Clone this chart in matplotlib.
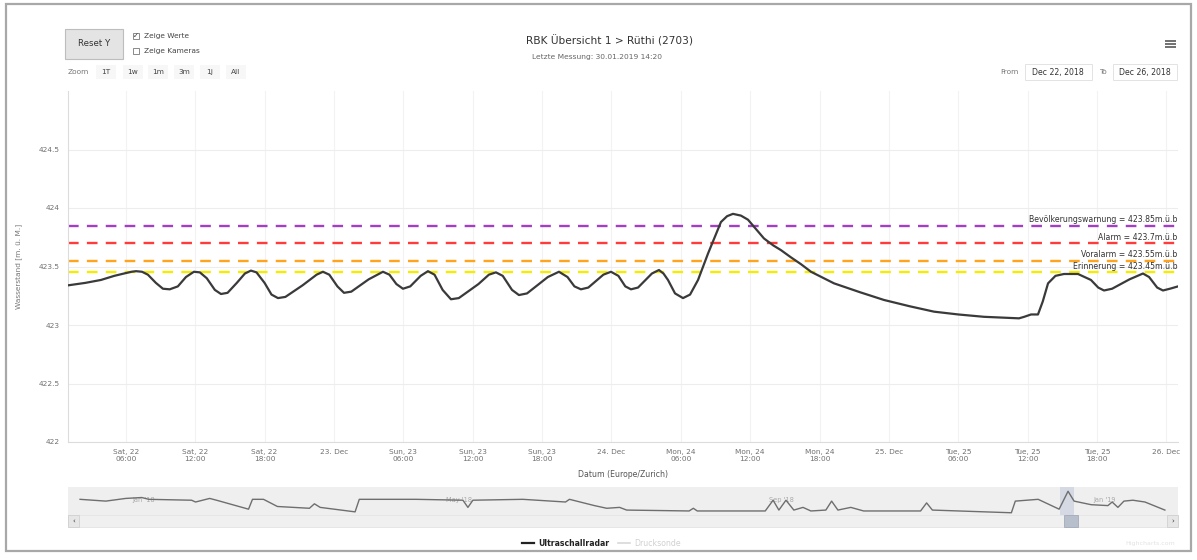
import matplotlib
matplotlib.use('Agg')
import matplotlib.pyplot as plt
from matplotlib.patches import Rectangle
import numpy as np

plt.rcParams['font.family'] = ['DejaVu Sans']

# ---------------- data ----------------
# hours since 22 Dec 2018 00:00 (Europe/Zurich)
hours = [1.08, 2.5, 3.85, 5.0, 5.84, 6.5, 6.88, 7.4, 7.91, 8.6, 9.21, 9.8, 10.5, 11.2, 11.89,
         12.4, 13.0, 13.7, 14.23, 14.8, 15.6, 16.3, 16.82, 17.3, 18.0, 18.6, 19.16, 19.8, 21.3,
         22.5, 23.05, 23.6, 24.3, 24.87, 25.5, 27.0, 28.24, 28.8, 29.4, 29.97, 30.6, 31.5, 32.13,
         32.7, 33.4, 34.12, 34.8, 36.5, 37.4, 38.01, 38.6, 39.4, 40.0, 40.7, 42.5, 43.46, 44.2,
         44.8, 45.36, 46.0, 47.3, 47.96, 48.6, 49.2, 49.69, 50.3, 51.5, 52.11, 52.5, 52.89, 53.5,
         54.19, 54.8, 55.49, 56.35, 57.47, 58.0, 58.51, 59.2, 59.81, 60.5, 61.19, 62.0, 62.66,
         63.5, 64.39, 65.26, 67.25, 69.5, 71.57, 73.8, 75.9, 78.0, 80.22, 83.25, 83.7, 84.29,
         84.89, 85.3, 85.76, 86.4, 87.14, 88.35, 89.47, 90.1, 90.6, 91.3, 92.8, 93.97, 94.5,
         95.2, 95.7, 96.3, 97.0]
level = [423.34, 423.36, 423.385, 423.42, 423.44, 423.455, 423.46, 423.455, 423.43, 423.36,
         423.31, 423.305, 423.33, 423.41, 423.455, 423.45, 423.40, 423.30, 423.265, 423.275,
         423.36, 423.44, 423.465, 423.45, 423.36, 423.26, 423.23, 423.24, 423.34, 423.43,
         423.455, 423.43, 423.33, 423.275, 423.285, 423.39, 423.455, 423.43, 423.35, 423.31,
         423.33, 423.42, 423.46, 423.43, 423.30, 423.22, 423.23, 423.35, 423.43, 423.45,
         423.42, 423.30, 423.256, 423.27, 423.41, 423.455, 423.41, 423.33, 423.305, 423.32,
         423.43, 423.455, 423.42, 423.33, 423.305, 423.32, 423.44, 423.47, 423.44, 423.385,
         423.27, 423.23, 423.26, 423.385, 423.61, 423.88, 423.93, 423.95, 423.935, 423.90,
         423.82, 423.74, 423.68, 423.64, 423.58, 423.52, 423.455, 423.356, 423.28, 423.214,
         423.16, 423.114, 423.09, 423.07, 423.057, 423.07, 423.09, 423.09, 423.20, 423.356,
         423.42, 423.436, 423.436, 423.385, 423.32, 423.295, 423.31, 423.39, 423.44, 423.41,
         423.32, 423.295, 423.31, 423.33]

thr_names = ['Bevölkerungswarnung', 'Alarm', 'Voralarm', 'Erinnerung']
thr_values = [423.85, 423.7, 423.55, 423.45]
thr_colors = ['#a23fc4', '#ff3b3b', '#ffa41c', '#f5ec00']

x_ticks = [6, 12, 18, 24, 30, 36, 42, 48, 54, 60, 66, 72, 78, 84, 90, 96]
x_tick_labels = ['Sat, 22\n06:00', 'Sat, 22\n12:00', 'Sat, 22\n18:00', '23. Dec',
                 'Sun, 23\n06:00', 'Sun, 23\n12:00', 'Sun, 23\n18:00', '24. Dec',
                 'Mon, 24\n06:00', 'Mon, 24\n12:00', 'Mon, 24\n18:00', '25. Dec',
                 'Tue, 25\n06:00', 'Tue, 25\n12:00', 'Tue, 25\n18:00', '26. Dec']
y_ticks = [422, 422.5, 423, 423.5, 424, 424.5]
y_tick_labels = ['422', '422.5', '423', '423.5', '424', '424.5']

# navigator: days since 3 Dec 2017, level
nav_days = [4.6, 14.4, 22.0, 28.1, 30.8, 47.1, 48.6, 54.0, 56.6, 68.8, 70.3, 74.5, 79.8, 92.0,
            93.9, 96.1, 109.4, 111.0, 132.6, 150.5, 152.4, 154.3, 173.3, 189.6, 191.1, 200.6,
            205.3, 210.2, 212.9, 236.7, 238.3, 239.8, 249.7, 265.7, 268.7, 270.9, 273.6, 276.6,
            280.1, 283.1, 288.8, 291.0, 293.4, 298.3, 303.2, 324.9, 327.2, 329.4, 359.5, 361.0,
            369.7, 377.7, 381.1, 383.4, 389.9, 396.3, 397.9, 400.1, 402.4, 405.8, 410.4, 418.0]
nav_level = [423.60, 423.52, 423.64, 423.68, 423.60, 423.56, 423.48, 423.64, 423.56, 423.16,
             423.60, 423.60, 423.28, 423.20, 423.40, 423.24, 423.04, 423.60, 423.60, 423.56,
             423.24, 423.56, 423.60, 423.48, 423.60, 423.32, 423.20, 423.24, 423.12, 423.08,
             423.20, 423.08, 423.08, 423.08, 423.56, 423.12, 423.56, 423.12, 423.24, 423.08,
             423.12, 423.52, 423.12, 423.24, 423.08, 423.08, 423.44, 423.12, 423.00, 423.52,
             423.60, 423.16, 423.96, 423.52, 423.36, 423.32, 423.48, 423.24, 423.52, 423.56,
             423.48, 423.12]
nav_ticks = [29, 149, 272, 395]
nav_tick_labels = ["Jan '18", "May '18", "Sep '18", "Jan '19"]

# ---------------- figure ----------------
W, H = 1197, 560
fig = plt.figure(figsize=(W / 100, H / 100), dpi=100)


def fx(x):
    return x / W


def fy(y):
    return 1 - y / H


ui = fig.add_axes([0, 0, 1, 1], zorder=0)
ui.set_xlim(0, W)
ui.set_ylim(H, 0)
ui.axis('off')

# outer frame
ui.add_patch(Rectangle((6, 4), 1185, 547, fill=False, ec='#a8a8a8', lw=1.6))

# Reset Y button
ui.add_patch(Rectangle((65, 29), 58, 30, fc='#e4e4e4', ec='#bdbdbd', lw=0.8))
ui.text(94, 44, 'Reset Y', ha='center', va='center', fontsize=6.2, color='#333333')
# checkboxes
ui.add_patch(Rectangle((133, 33), 6, 6, fc='white', ec='#777777', lw=0.6))
ui.text(136, 36.2, '✓', ha='center', va='center', fontsize=5, color='#333333')
ui.add_patch(Rectangle((133, 48), 6, 6, fc='white', ec='#777777', lw=0.6))
ui.text(144, 36, 'Zeige Werte', ha='left', va='center', fontsize=5.3, color='#444444')
ui.text(144, 51, 'Zeige Kameras', ha='left', va='center', fontsize=5.3, color='#444444')
# zoom row
ui.text(68, 72, 'Zoom', ha='left', va='center', fontsize=5.3, color='#777777')
for xx, lab in zip([106, 133, 158, 184, 210, 236], ['1T', '1w', '1m', '3m', '1j', 'All']):
    ui.add_patch(Rectangle((xx - 10, 65), 20, 14, fc='#f7f7f7', ec='none'))
    ui.text(xx, 72, lab, ha='center', va='center', fontsize=5.3, color='#444444')

# title
ui.text(610, 41, 'RBK Übersicht 1 > Rüthi (2703)', ha='center', va='center',
        fontsize=7.6, color='#333333')
ui.text(597, 56.5, 'Letzte Messung: 30.01.2019 14:20', ha='center', va='center',
        fontsize=5.4, color='#666666')
# menu icon
for yy in [41, 44, 47]:
    ui.plot([1165, 1176], [yy, yy], color='#666666', lw=1.3, solid_capstyle='butt')
# date range inputs
ui.text(1019, 72, 'From', ha='right', va='center', fontsize=5.3, color='#777777')
ui.add_patch(Rectangle((1025, 64), 67, 16, fc='white', ec='#e3e3e3', lw=0.7))
ui.text(1058, 72, 'Dec 22, 2018', ha='center', va='center', fontsize=5.6, color='#333333')
ui.text(1107, 72, 'To', ha='right', va='center', fontsize=5.3, color='#777777')
ui.add_patch(Rectangle((1113, 64), 64, 16, fc='white', ec='#e3e3e3', lw=0.7))
ui.text(1145, 72, 'Dec 26, 2018', ha='center', va='center', fontsize=5.6, color='#333333')

# ---------------- main plot ----------------
L, R, T, B = 68, 1178, 91, 442
ax = fig.add_axes([fx(L), fy(B), (R - L) / W, (B - T) / H], zorder=2)
ax.set_facecolor('none')
ax.set_xlim(1, 97)
ax.set_ylim(422, 425)
ax.set_yticks(y_ticks)
ax.set_yticklabels(y_tick_labels)
ax.set_xticks(x_ticks)
ax.set_xticklabels(x_tick_labels)
ax.tick_params(axis='both', length=0, labelsize=5.3, labelcolor='#707070')
ax.tick_params(axis='y', pad=6)
ax.tick_params(axis='x', pad=5)
ax.grid(axis='y', color='#ededed', lw=0.8)
ax.grid(axis='x', color='#f2f2f2', lw=0.8)
for s in ['top', 'right']:
    ax.spines[s].set_visible(False)
ax.spines['left'].set_color('#dcdcdc')
ax.spines['bottom'].set_color('#dcdcdc')
ax.set_ylabel('Wasserstand [m. ü. M.]', fontsize=5.3, color='#777777', labelpad=12)
ax.set_xlabel('Datum (Europe/Zurich)', fontsize=5.6, color='#555555', labelpad=6)

for name, val, col in zip(thr_names, thr_values, thr_colors):
    ax.axhline(val, color=col, lw=1.7, dashes=(4.5, 3.5), zorder=2)
    ax.text(96.95, val + 0.012, f'{name} = {val:g}m.ü.b', ha='right', va='bottom',
            fontsize=5.6, color='#333333', zorder=4)

ax.plot(hours, level, color='#3a3a3a', lw=1.6, zorder=3)

# ---------------- navigator ----------------
NT, NB = 487, 515
nav = fig.add_axes([fx(L), fy(NB), (R - L) / W, (NB - NT) / H], zorder=2)
nav.set_facecolor('#efefef')
nav.set_xlim(0, 423)
nav.set_ylim(422.9, 424.15)
nav.plot(nav_days, nav_level, color='#6e6e6e', lw=1.0)
nav.set_xticks(nav_ticks)
nav.set_xticklabels(nav_tick_labels)
nav.tick_params(axis='x', direction='in', pad=-13, length=0, labelsize=4.8, labelcolor='#aaaaaa')
nav.set_yticks([])
for s in nav.spines.values():
    s.set_visible(False)
# selection window
nav.axvspan(378, 383.4, color='#c9d1e0', alpha=0.7, lw=0)

# scrollbar
ui.add_patch(Rectangle((L, 515), R - L, 12, fc='#f0f0f0', ec='#e0e0e0', lw=0.5))
ui.add_patch(Rectangle((L, 515), 11, 12, fc='#e6e6e6', ec='#cccccc', lw=0.5))
ui.add_patch(Rectangle((R - 11, 515), 11, 12, fc='#e6e6e6', ec='#cccccc', lw=0.5))
ui.text(L + 5.5, 521, '‹', ha='center', va='center', fontsize=5, color='#333333')
ui.text(R - 5.5, 521, '›', ha='center', va='center', fontsize=5, color='#333333')
ui.add_patch(Rectangle((1064, 515), 14, 12, fc='#b8bfcc', ec='#9aa2b0', lw=0.5))
for hx in [1063, 1078]:
    ui.add_patch(Rectangle((hx - 2.5, 493), 5, 11, fc='#f2f2f2', ec='#999999', lw=0.6))

# legend
ui.plot([522, 534], [543, 543], color='#222222', lw=1.6)
ui.text(538, 543, 'Ultraschallradar', ha='left', va='center', fontsize=5.6,
        fontweight='bold', color='#222222')
ui.plot([618, 630], [543, 543], color='#d8d8d8', lw=1.2)
ui.text(634, 543, 'Drucksonde', ha='left', va='center', fontsize=5.6, color='#d0d0d0')
ui.text(1175, 543, 'Highcharts.com', ha='right', va='center', fontsize=4.5, color='#e2e2e2')

fig.savefig('out.png', dpi=100)
